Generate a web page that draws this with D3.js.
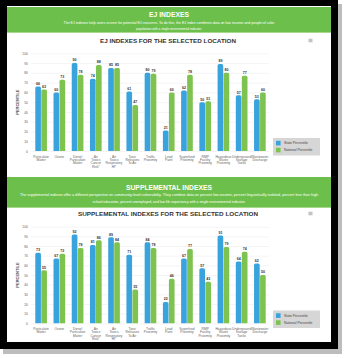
<!DOCTYPE html>
<html>
<head>
<meta charset="utf-8">
<script src="https://cdn.jsdelivr.net/npm/d3@7"></script>
<style>
  html, body { margin: 0; padding: 0; background: #fff; }
  svg { display: block; }
  text { font-family: "Liberation Sans", Arial, sans-serif; }
</style>
</head>
<body>
<svg id="chart" width="345" height="358"></svg>
<script>
const categories = [
  "Particulate Matter", "Ozone", "Diesel Particulate Matter", "Air Toxics Cancer Risk*",
  "Air Toxics Respiratory HI*", "Toxic Releases To Air", "Traffic Proximity", "Lead Paint",
  "Superfund Proximity", "RMP Facility Proximity", "Hazardous Waste Proximity",
  "Underground Storage Tanks", "Wastewater Discharge"
];
const categoryLines = [
  ["Particulate", "Matter"], ["Ozone"], ["Diesel", "Particulate", "Matter"],
  ["Air", "Toxics", "Cancer", "Risk*"], ["Air", "Toxics", "Respiratory", "HI*"],
  ["Toxic", "Releases", "To Air"], ["Traffic", "Proximity"], ["Lead", "Paint"],
  ["Superfund", "Proximity"], ["RMP", "Facility", "Proximity"],
  ["Hazardous", "Waste", "Proximity"], ["Underground", "Storage", "Tanks"],
  ["Wastewater", "Discharge"]
];
const seriesNames = ["State Percentile", "National Percentile"];
const ejState = [66, 60, 90, 74, 85, 61, 80, 21, 62, 50, 89, 57, 53];
const ejNational = [63, 73, 78, 88, 85, 47, 79, 60, 78, 51, 80, 77, 60];
const suppState = [73, 67, 92, 81, 89, 71, 84, 22, 67, 57, 91, 64, 62];
const suppNational = [55, 72, 78, 86, 84, 35, 78, 46, 77, 43, 79, 74, 50];
const yTicks = [0, 10, 20, 30, 40, 50, 60, 70, 80, 90, 100];

const colors = ["#38a3dc", "#7ec34f"];
const headerGreen = "#6cbf4a";

const svg = d3.select("#chart");

// page frame with shadow
svg.append("rect").attr("x", 3).attr("y", 4).attr("width", 339).attr("height", 350).attr("fill", "#bdbdbd");
svg.append("rect").attr("x", 0).attr("y", 0).attr("width", 338).attr("height", 349).attr("fill", "#000");
svg.append("rect").attr("x", 7).attr("y", 6).attr("width", 324).attr("height", 336).attr("fill", "#fff");

function header(y0, h, title, lines, titleY, lineYs, titleW, lineWs) {
  svg.append("rect").attr("x", 7).attr("y", y0).attr("width", 324).attr("height", h).attr("fill", headerGreen);
  svg.append("rect").attr("x", 7).attr("y", y0 + h - 1).attr("width", 324).attr("height", 1).attr("fill", "#a6d98c");
  svg.append("text").attr("x", 169).attr("y", titleY).attr("text-anchor", "middle")
    .attr("font-size", 7.5).attr("font-weight", "bold").attr("fill", "#fff")
    .attr("textLength", titleW).attr("lengthAdjust", "spacingAndGlyphs").text(title);
  lines.forEach((t, i) => {
    svg.append("text").attr("x", 169).attr("y", lineYs[i]).attr("text-anchor", "middle")
      .attr("font-size", 4).attr("fill", "#fff")
      .attr("textLength", lineWs[i]).attr("lengthAdjust", "spacingAndGlyphs").text(t);
  });
}

header(7, 26, "EJ INDEXES",
  ["The EJ indexes help users screen for potential EJ concerns. To do this, the EJ index combines data on low income and people of color",
   "populations with a single environmental indicator."],
  17, [23.5, 30], 40, [211, 66]);

header(177, 31, "SUPPLEMENTAL INDEXES",
  ["The supplemental indexes offer a different perspective on community-level vulnerability. They combine data on percent low-income, percent linguistically isolated, percent less than high",
   "school education, percent unemployed, and low life expectancy with a single environmental indicator."],
  190, [196, 202.5], 86, [298, 153]);

function roundTopPath(x, y, w, h, r) {
  r = Math.min(r, w / 2, h);
  return `M${x},${y + h}V${y + r}Q${x},${y} ${x + r},${y}H${x + w - r}Q${x + w},${y} ${x + w},${y + r}V${y + h}Z`;
}

function drawChart(cfg) {
  const g = svg.append("g");
  // chart title
  g.append("text").attr("x", 168).attr("y", cfg.titleY).attr("text-anchor", "middle")
    .attr("font-size", 6).attr("font-weight", "bold").attr("fill", "#333")
    .attr("textLength", cfg.titleW).attr("lengthAdjust", "spacingAndGlyphs").text(cfg.title);
  // menu icon
  const mi = g.append("g").attr("transform", `translate(308,${cfg.titleY - 4})`);
  mi.append("rect").attr("width", 5).attr("height", 4).attr("rx", 0.8).attr("fill", "#e0e0e0");
  [1, 2, 3].forEach(k => mi.append("rect").attr("x", 1).attr("y", k - 0.2).attr("width", 3).attr("height", 0.4).attr("fill", "#999"));

  const y = d3.scaleLinear().domain([0, 100]).range([cfg.y0, cfg.y100]);
  const x = d3.scaleBand().domain(categories).range([32, 269]).paddingInner(0.36).paddingOuter(0.18);
  const xs = d3.scaleBand().domain(seriesNames).range([0, x.bandwidth()]).paddingInner(0.06);

  // grid lines + y labels
  const yAxis = d3.axisLeft(y).tickValues(yTicks).tickSize(-(269 - 31)).tickFormat(d3.format("d"));
  const ax = g.append("g").attr("transform", "translate(31,0)").call(yAxis);
  ax.select(".domain").remove();
  ax.selectAll(".tick line").attr("stroke", "#ececec").attr("stroke-width", 0.6);
  ax.selectAll(".tick text").attr("x", -3).attr("font-size", 3.4).attr("fill", "#666")
    .attr("font-family", "Liberation Sans, Arial, sans-serif");

  // y axis title
  g.append("text").attr("transform", `translate(19,${(cfg.y0 + cfg.y100) / 2}) rotate(-90)`)
    .attr("text-anchor", "middle").attr("font-size", 4).attr("font-weight", "bold").attr("fill", "#444")
    .text("PERCENTILE");

  const data = categories.map((c, i) => ({ c, vals: [cfg.state[i], cfg.national[i]] }));
  const groups = g.selectAll(".grp").data(data).join("g")
    .attr("transform", d => `translate(${x(d.c)},0)`);
  groups.selectAll("path").data(d => d.vals.map((v, k) => ({ v, s: seriesNames[k], k }))).join("path")
    .attr("d", d => roundTopPath(xs(d.s), y(d.v), xs.bandwidth(), y(0) - y(d.v), 1.6))
    .attr("fill", d => colors[d.k]);
  groups.selectAll(".lbl").data(d => d.vals.map((v, k) => ({ v, s: seriesNames[k] }))).join("text")
    .attr("class", "lbl")
    .attr("x", d => xs(d.s) + xs.bandwidth() / 2).attr("y", d => y(d.v) - 1.6)
    .attr("text-anchor", "middle").attr("font-size", 3.6).attr("font-weight", "bold").attr("fill", "#333")
    .text(d => d.v);

  // x labels
  const xl = g.selectAll(".xl").data(categories).join("text").attr("class", "xl")
    .attr("text-anchor", "middle").attr("font-size", 3.3).attr("fill", "#666")
    .attr("transform", d => `translate(${x(d) + x.bandwidth() / 2},${cfg.y0 + 6.5})`);
  xl.each(function (d, i) {
    d3.select(this).selectAll("tspan").data(categoryLines[i]).join("tspan")
      .attr("x", 0).attr("dy", (t, j) => j === 0 ? 0 : 3.4).text(t => t);
  });

  // legend
  const lg = g.append("g").attr("transform", `translate(273,${cfg.legendY})`);
  lg.append("rect").attr("width", 47).attr("height", 17.5).attr("fill", "#d6d6d6");
  seriesNames.forEach((s, k) => {
    lg.append("rect").attr("x", 3).attr("y", 2.8 + k * 7).attr("width", 4.6).attr("height", 4.6).attr("fill", colors[k]);
    lg.append("text").attr("x", 11).attr("y", 6.3 + k * 7).attr("font-size", 3.4).attr("fill", "#444").text(s);
  });
}

drawChart({
  title: "EJ INDEXES FOR THE SELECTED LOCATION", titleY: 42.5, titleW: 136,
  y0: 151, y100: 53.3, state: ejState, national: ejNational, legendY: 138
});
drawChart({
  title: "SUPPLEMENTAL INDEXES FOR THE SELECTED LOCATION", titleY: 215.5, titleW: 180,
  y0: 323.3, y100: 226.7, state: suppState, national: suppNational, legendY: 310.5
});
</script>
</body>
</html>
